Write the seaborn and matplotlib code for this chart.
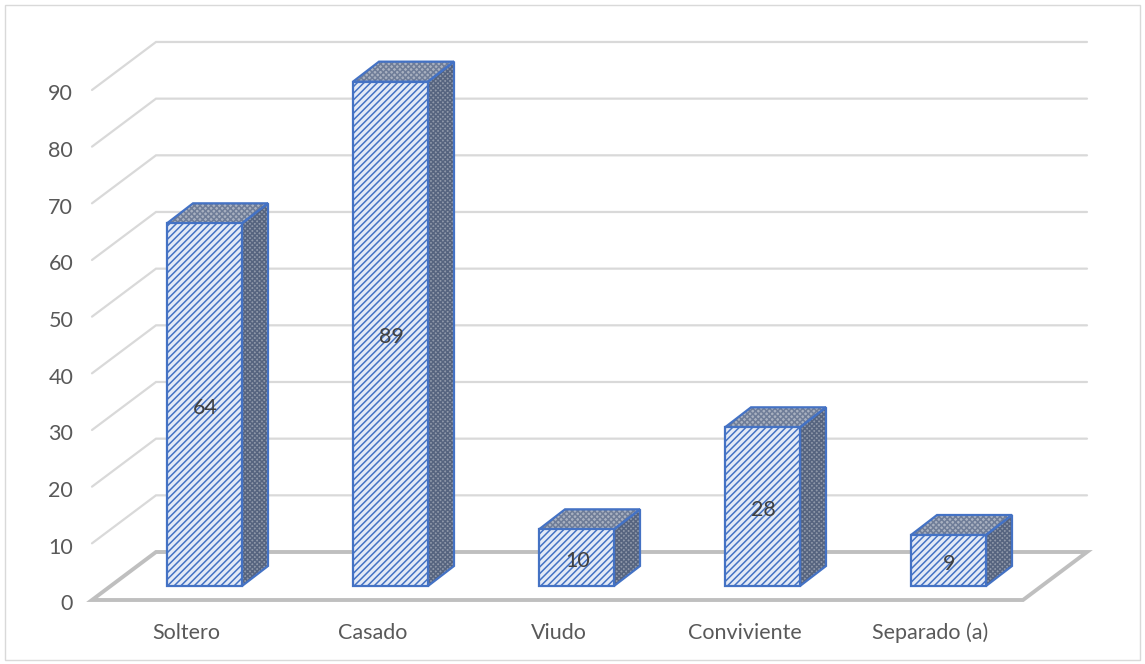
import matplotlib
matplotlib.use("Agg")
import matplotlib.pyplot as plt
import pandas as pd
import seaborn as sns
from matplotlib.patches import Polygon, Rectangle

categories = ["Soltero", "Casado", "Viudo", "Conviviente", "Separado (a)"]
values = [64, 89, 10, 28, 9]
axis_ticks = [0, 10, 20, 30, 40, 50, 60, 70, 80, 90]

W, H = 1145, 664
sns.set_theme(style="white")
plt.rcParams["font.family"] = ["Lato", "DejaVu Sans"]
plt.rcParams["hatch.linewidth"] = 1.1

# Pixel layout of the pseudo-3D scene
PX_UNIT = 186.0          # px per category
PY_UNIT = 5.667          # px per value unit
X0 = 204.5               # px of first bar centre
Y0 = 586.0               # px of value 0 at the bar front
L, R, T, B = 76, 1100, 30, 615

fig = plt.figure(figsize=(W / 100, H / 100), dpi=100, facecolor="white")
ax = fig.add_axes([L / W, 1 - B / H, (R - L) / W, (B - T) / H])
ax.set_xlim((L - X0) / PX_UNIT, (R - X0) / PX_UNIT)
ax.set_ylim((Y0 - B) / PY_UNIT, (Y0 - T) / PY_UNIT)
ax.set_autoscale_on(False)

fig.add_artist(Rectangle((5 / W, 1 - 660 / H), 1135 / W, 655 / H, transform=fig.transFigure,
                         fill=False, edgecolor="#D9D9D9", lw=1.0))

# scene offsets in data units
front = (14.0 / PY_UNIT)                 # wall front edge is below the bar base
fx0, fx1 = (92 - X0) / PX_UNIT, (1023 - X0) / PX_UNIT
depth_x, depth_y = 64 / PX_UNIT, 48 / PY_UNIT
bx, by = 26 / PX_UNIT, 20 / PY_UNIT      # bar depth

# gridlines: slanted side wall + back wall
for v in axis_ticks[1:]:
    y = v - front
    ax.plot([fx0, fx0 + depth_x, fx1 + depth_x], [y, y + depth_y, y + depth_y],
            color="#D9D9D9", lw=1.6, zorder=1, solid_joinstyle="miter")
# floor
ax.add_patch(Polygon([(fx0, -front), (fx0 + depth_x, -front + depth_y),
                      (fx1 + depth_x, -front + depth_y), (fx1, -front)],
                     closed=True, fill=False, edgecolor="#BFBFBF", lw=2.8, zorder=1.5))

df = pd.DataFrame({"estado": categories, "n": values})
sns.barplot(data=df, x="estado", y="n", ax=ax, width=75 / PX_UNIT, color="#E3EAF6", saturation=1,
            edgecolor="#4472C4", linewidth=1.6, hatch="/////", zorder=3, native_scale=False)
ax.set_xlim((L - X0) / PX_UNIT, (R - X0) / PX_UNIT)
ax.set_ylim((Y0 - B) / PY_UNIT, (Y0 - T) / PY_UNIT)
bars = list(ax.containers[0])

for b in bars:
    x0, w, h = b.get_x(), b.get_width(), b.get_height()
    x1 = x0 + w
    top = [(x0, h), (x1, h), (x1 + bx, h + by), (x0 + bx, h + by)]
    side = [(x1, 0), (x1 + bx, by), (x1 + bx, h + by), (x1, h)]
    for pts, fc, hc, hatch in [(top, "#A9B1C0", "#6F7D98", "xxxxxx"),
                               (side, "#8F98A9", "#56647F", "xxxxxxx")]:
        ax.add_patch(Polygon(pts, closed=True, facecolor=fc, edgecolor=hc, hatch=hatch, lw=0, zorder=2.8))
        ax.add_patch(Polygon(pts, closed=True, fill=False, edgecolor="#4472C4", lw=1.6, zorder=2.9))

bar_texts = ax.bar_label(ax.containers[0], labels=[str(v) for v in values], label_type="center",
                         fontsize=15.5, color="#404040", zorder=5)
for t in bar_texts:
    t.xyann = (0.7, -2.5)

ax.set_xticks([i - 18 / PX_UNIT for i in range(len(categories))], categories)
ax.set_yticks([v - front - 2.2 / PY_UNIT for v in axis_ticks], [str(v) for v in axis_ticks])
ax.tick_params(axis="both", length=0, labelsize=15.5, labelcolor="#595959")
ax.tick_params(axis="x", pad=17.2)
ax.tick_params(axis="y", pad=2)
for t in ax.get_xticklabels():
    t.set_verticalalignment("baseline")
ax.set_xlabel("")
ax.set_ylabel("")
ax.grid(False)
sns.despine(ax=ax, left=True, bottom=True)

fig.savefig("out.png", dpi=100)
